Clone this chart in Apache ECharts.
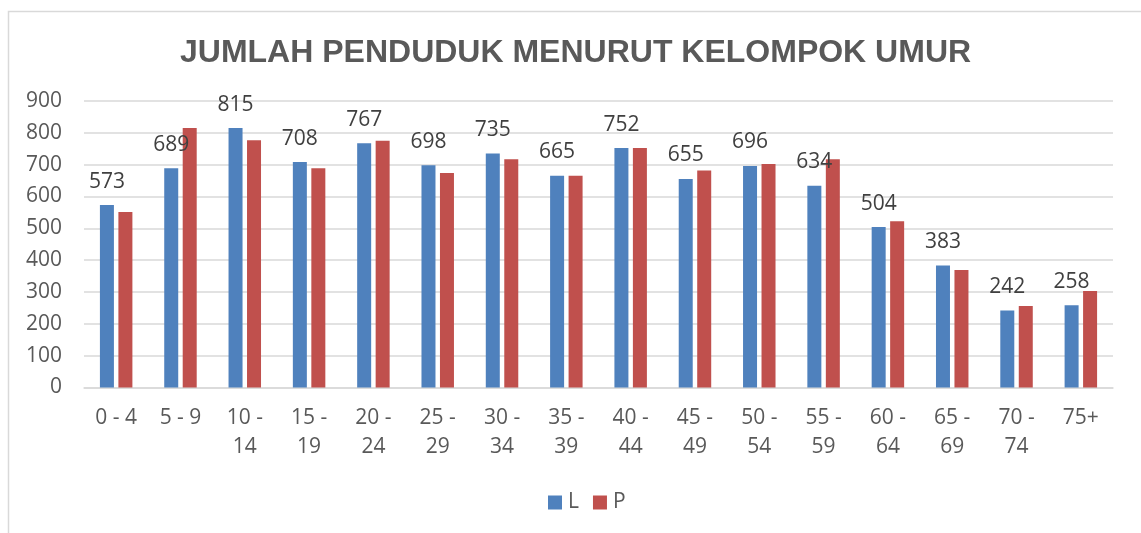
<!DOCTYPE html>
<html>
<head>
<meta charset="utf-8">
<script src="https://cdn.jsdelivr.net/npm/echarts@6/dist/echarts.min.js"></script>
<style>
html,body{margin:0;padding:0;background:#fff;}
#chart{width:1141px;height:533px;}
</style>
</head>
<body>
<div id="chart"></div>
<script>
const titleText = 'JUMLAH PENDUDUK MENURUT KELOMPOK UMUR';
const categories = ['0 - 4','5 - 9','10 -\n14','15 -\n19','20 -\n24','25 -\n29','30 -\n34','35 -\n39','40 -\n44','45 -\n49','50 -\n54','55 -\n59','60 -\n64','65 -\n69','70 -\n74','75+'];
const seriesNames = ['L','P'];
const valuesL = [573,689,815,708,767,698,735,665,752,655,696,634,504,383,242,258];
const valuesP = [551,815,777,689,775,674,717,665,752,682,702,717,522,369,256,303];
const yTicks = {min:0, max:900, interval:100};

const chart = echarts.init(document.getElementById('chart'), null, {renderer:'canvas'});
const axisFont = {fontFamily:'Open Sans', fontSize:21, color:'#595959'};
chart.setOption({
  animation:false,
  backgroundColor:'#fff',
  graphic:[{
    type:'rect', silent:true,
    shape:{x:8.5, y:11.5, width:1145, height:540},
    style:{fill:'none', stroke:'#d9d9d9', lineWidth:1.5}
  }],
  title:{
    text:titleText, left:175, top:32,
    textStyle:{fontFamily:'Liberation Sans', fontWeight:'bold', fontSize:32, color:'#595959', lineHeight:32}
  },
  legend:{
    data:seriesNames, left:543, top:487,
    itemWidth:14, itemHeight:14, itemGap:14, icon:'rect',
    textStyle:{fontFamily:'Open Sans', fontSize:21, color:'#595959', padding:[0,0,0,1]}
  },
  grid:{left:84, right:28, top:101, bottom:145.5, containLabel:false},
  xAxis:{
    type:'category', data:categories,
    axisLine:{show:true, lineStyle:{color:'#d9d9d9', width:1.5}},
    axisTick:{show:false},
    axisLabel:Object.assign({interval:0, margin:16, lineHeight:29}, axisFont)
  },
  yAxis:{
    type:'value', min:yTicks.min, max:yTicks.max, interval:yTicks.interval,
    axisLine:{show:false}, axisTick:{show:false},
    splitLine:{lineStyle:{color:'#d9d9d9', width:1.5}},
    axisLabel:Object.assign({margin:22}, axisFont)
  },
  series:[
    {name:seriesNames[0], type:'bar', data:valuesL, barWidth:14, barGap:'32%',
     itemStyle:{color:'#4f81bd'},
     label:{show:true, position:'top', distance:13, fontFamily:'Open Sans', fontSize:21, color:'#404040'}},
    {name:seriesNames[1], type:'bar', data:valuesP, barWidth:14, barGap:'32%',
     itemStyle:{color:'#c0504d'}, z:1}
  ]
});
</script>
</body>
</html>
